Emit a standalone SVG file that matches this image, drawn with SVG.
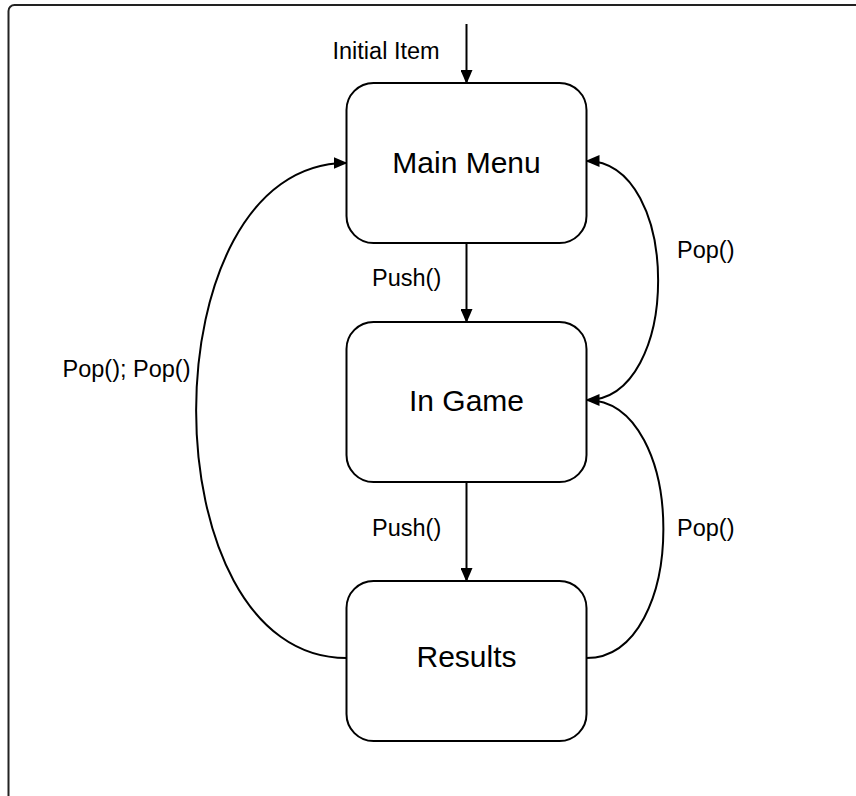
<svg xmlns="http://www.w3.org/2000/svg" width="856" height="796" viewBox="0 0 856 796">
<style>
.box{fill:#fff;stroke:#000;stroke-width:2}
.conn{fill:none;stroke:#000;stroke-width:2}
.lbl{font-family:"Liberation Sans",Arial,sans-serif;font-size:23.5px;fill:#000}
.title{font-family:"Liberation Sans",Arial,sans-serif;font-size:30px;fill:#000;text-anchor:middle}
</style>
<defs>
<marker id="arr" markerUnits="userSpaceOnUse" markerWidth="14" markerHeight="12" refX="13" refY="6" orient="auto">
<path d="M0,0 L14,6 L0,12 z" fill="#000"/>
</marker>
</defs>
<rect x="0" y="0" width="856" height="796" fill="#fff"/>
<rect x="8.5" y="5" width="900" height="900" rx="6" fill="none" stroke="#222" stroke-width="2"/>
<g id="connectors">
<line class="conn" x1="466.5" y1="24" x2="466.5" y2="83" marker-end="url(#arr)"/>
<line class="conn" x1="466.5" y1="243" x2="466.5" y2="322" marker-end="url(#arr)"/>
<line class="conn" x1="466.5" y1="482" x2="466.5" y2="581" marker-end="url(#arr)"/>
<path class="conn" d="M586.5,400 C682,400 682,161 586.5,161" marker-end="url(#arr)"/>
<path class="conn" d="M586.5,658 C689,658 689,400 586.5,400" marker-end="url(#arr)"/>
<path class="conn" d="M346.5,658 C146,658 146,163 346.5,163" marker-end="url(#arr)"/>
<text class="lbl" x="332.5" y="59">Initial Item</text>
<text class="lbl" x="372" y="286">Push()</text>
<text class="lbl" x="372" y="536">Push()</text>
<text class="lbl" x="677" y="258">Pop()</text>
<text class="lbl" x="677" y="536">Pop()</text>
<text class="lbl" x="62.5" y="376.5">Pop(); Pop()</text>
</g>
<g id="main-menu">
<rect class="box" x="346.5" y="83" width="240" height="160" rx="27"/>
<text class="title" x="466.5" y="172.5">Main Menu</text>
</g>
<g id="in-game">
<rect class="box" x="346.5" y="322" width="240" height="160" rx="27"/>
<text class="title" x="466.5" y="411">In Game</text>
</g>
<g id="results">
<rect class="box" x="346.5" y="581" width="240" height="160" rx="27"/>
<text class="title" x="466.5" y="667">Results</text>
</g>
</svg>
